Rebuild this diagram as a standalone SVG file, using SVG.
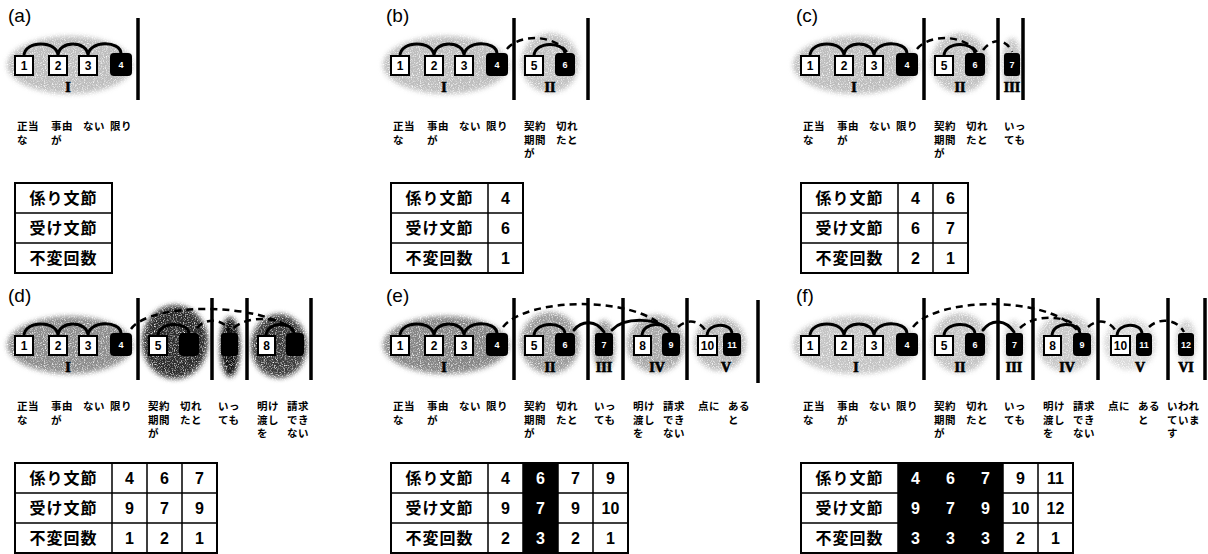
<svg xmlns="http://www.w3.org/2000/svg" width="1208" height="554" viewBox="0 0 1208 554">
<defs>
<filter id="stip" x="-15%" y="-25%" width="130%" height="150%" color-interpolation-filters="sRGB">
<feGaussianBlur in="SourceGraphic" stdDeviation="2.5" result="b"/>
<feTurbulence type="fractalNoise" baseFrequency="0.9" numOctaves="2" seed="4" result="n"/>
<feColorMatrix in="n" type="matrix" values="0 0 0 0 0  0 0 0 0 0  0 0 0 0 0  2.6 0 0 0 -0.35" result="m"/>
<feComposite in="b" in2="m" operator="in"/>
</filter>
</defs>
<style>
.lab{font-family:"Liberation Sans",Arial,sans-serif;font-size:19px;fill:#000}
.arc{fill:none;stroke:#000;stroke-width:3;stroke-linecap:round}
.dash{fill:none;stroke:#000;stroke-width:2.5;stroke-dasharray:7 5}
.box{fill:#fff;stroke:#000;stroke-width:2}
.blk{fill:#000}
.sep{stroke:#000;stroke-width:3.5}
.n{font-family:"Liberation Sans",Arial,sans-serif;font-weight:bold;font-size:12px;text-anchor:middle;fill:#000}
.nw{font-family:"Liberation Sans",Arial,sans-serif;font-weight:bold;font-size:9px;text-anchor:middle;fill:#fff}
.rom{font-family:"Liberation Serif","Times New Roman",serif;font-weight:bold;font-size:14px;text-anchor:middle;fill:#000;stroke:#000;stroke-width:0.7}
.w{font-family:"Noto Sans CJK JP",sans-serif;font-weight:bold;font-size:10.5px;letter-spacing:0.5px;fill:#000}
.tb{fill:#fff;stroke:#000;stroke-width:2}
.tg{fill:none;stroke:#000;stroke-width:1.5}
.tl{font-family:"Noto Sans CJK JP",sans-serif;font-weight:bold;font-size:16px;letter-spacing:1px;text-anchor:middle;fill:#000}
.tn{font-family:"Liberation Sans",Arial,sans-serif;font-weight:bold;font-size:16px;text-anchor:middle;fill:#000}
.tnw{font-family:"Liberation Sans",Arial,sans-serif;font-weight:bold;font-size:16px;text-anchor:middle;fill:#fff}
</style>
<rect width="1208" height="554" fill="#fff"/>

<!-- ===================== (a) ===================== -->
<g id="panel-a">
<text class="lab" x="8" y="22">(a)</text>
<g id="a-blobs" filter="url(#stip)">
<ellipse cx="70" cy="65" rx="63" ry="29" fill="#bdbdbd"/>
</g>
<g id="a-connectors">
<path class="arc" d="M24 56C24 40 58 40 58 56M58 56C58 40 88 40 88 56M88 56C88 40 121 40 121 54"/>
</g>
<g id="a-seg1">
<rect class="box" x="15" y="56" width="18" height="19"/><text class="n" x="24" y="70">1</text>
<rect class="box" x="49" y="56" width="18" height="19"/><text class="n" x="58" y="70">2</text>
<rect class="box" x="79" y="56" width="18" height="19"/><text class="n" x="88" y="70">3</text>
<rect class="blk" x="110" y="53" width="22" height="23" rx="4"/><text class="nw" x="121" y="68">4</text>
<text class="rom" x="68" y="92">I</text>
<line class="sep" x1="138" y1="18" x2="138" y2="100"/>
</g>
<g id="a-words">
<text class="w" x="17" y="130">正当<tspan x="17" dy="13.5">な</tspan></text>
<text class="w" x="51" y="130">事由<tspan x="51" dy="13.5">が</tspan></text>
<text class="w" x="83" y="130">ない</text>
<text class="w" x="110" y="130">限り</text>
</g>
<g id="a-table">
<rect class="tb" x="15" y="183" width="97" height="90"/>
<path class="tg" d="M15 213H112M15 243H112"/>
<text class="tl" x="63.5" y="204">係り文節</text>
<text class="tl" x="63.5" y="234">受け文節</text>
<text class="tl" x="63.5" y="264">不変回数</text>
</g>
</g>

<!-- ===================== (b) ===================== -->
<g id="panel-b" transform="translate(376,0)">
<text class="lab" x="10" y="22">(b)</text>
<g id="b-blobs" filter="url(#stip)">
<ellipse cx="70" cy="65" rx="63" ry="29" fill="#bdbdbd"/>
<ellipse cx="174" cy="63" rx="29" ry="30" fill="#c2c2c2"/>
</g>
<g id="b-connectors">
<path class="arc" d="M24 56C24 40 58 40 58 56M58 56C58 40 88 40 88 56M88 56C88 40 121 40 121 54"/>
<path class="arc" d="M158 56C158 41 189 41 189 54"/>
<path class="dash" d="M131 49C142 35 176 33 191 52"/>
</g>
<g id="b-seg1">
<rect class="box" x="15" y="56" width="18" height="19"/><text class="n" x="24" y="70">1</text>
<rect class="box" x="49" y="56" width="18" height="19"/><text class="n" x="58" y="70">2</text>
<rect class="box" x="79" y="56" width="18" height="19"/><text class="n" x="88" y="70">3</text>
<rect class="blk" x="110" y="53" width="22" height="23" rx="4"/><text class="nw" x="121" y="68">4</text>
<text class="rom" x="68" y="92">I</text>
<line class="sep" x1="138" y1="18" x2="138" y2="100"/>
</g>
<g id="b-seg2">
<rect class="box" x="149" y="56" width="18" height="19"/><text class="n" x="158" y="70">5</text>
<rect class="blk" x="179" y="53" width="20" height="23" rx="4"/><text class="nw" x="189" y="68">6</text>
<text class="rom" x="174" y="92">II</text>
<line class="sep" x1="212" y1="18" x2="212" y2="100"/>
</g>
<g id="b-words">
<text class="w" x="17" y="130">正当<tspan x="17" dy="13.5">な</tspan></text>
<text class="w" x="51" y="130">事由<tspan x="51" dy="13.5">が</tspan></text>
<text class="w" x="83" y="130">ない</text>
<text class="w" x="110" y="130">限り</text>
<text class="w" x="148" y="130">契約<tspan x="148" dy="13.5">期間</tspan><tspan x="148" dy="13.5">が</tspan></text>
<text class="w" x="180" y="130">切れ<tspan x="180" dy="13.5">たと</tspan></text>
</g>
<g id="b-table">
<rect class="tb" x="15" y="183" width="132" height="90"/>
<path class="tg" d="M15 213H147M15 243H147M112 183V273"/>
<text class="tl" x="63.5" y="204">係り文節</text>
<text class="tl" x="63.5" y="234">受け文節</text>
<text class="tl" x="63.5" y="264">不変回数</text>
<text class="tn" x="129.5" y="204">4</text><text class="tn" x="129.5" y="234">6</text><text class="tn" x="129.5" y="264">1</text>
</g>
</g>

<!-- ===================== (c) ===================== -->
<g id="panel-c" transform="translate(786,0)">
<text class="lab" x="10" y="22">(c)</text>
<g id="c-blobs" filter="url(#stip)">
<ellipse cx="70" cy="65" rx="63" ry="29" fill="#bdbdbd"/>
<ellipse cx="174" cy="63" rx="29" ry="30" fill="#c2c2c2"/>
<ellipse cx="226" cy="64" rx="10" ry="26" fill="#c6c6c6"/>
</g>
<g id="c-connectors">
<path class="arc" d="M24 56C24 40 58 40 58 56M58 56C58 40 88 40 88 56M88 56C88 40 121 40 121 54"/>
<path class="arc" d="M158 56C158 41 189 41 189 54"/>
<path class="dash" d="M131 49C142 35 176 33 191 52"/>
<path class="dash" d="M197 50C206 38 220 38 226 52"/>
</g>
<g id="c-seg1">
<rect class="box" x="15" y="56" width="18" height="19"/><text class="n" x="24" y="70">1</text>
<rect class="box" x="49" y="56" width="18" height="19"/><text class="n" x="58" y="70">2</text>
<rect class="box" x="79" y="56" width="18" height="19"/><text class="n" x="88" y="70">3</text>
<rect class="blk" x="110" y="53" width="22" height="23" rx="4"/><text class="nw" x="121" y="68">4</text>
<text class="rom" x="68" y="92">I</text>
<line class="sep" x1="138" y1="18" x2="138" y2="100"/>
</g>
<g id="c-seg2">
<rect class="box" x="149" y="56" width="18" height="19"/><text class="n" x="158" y="70">5</text>
<rect class="blk" x="179" y="53" width="20" height="23" rx="4"/><text class="nw" x="189" y="68">6</text>
<text class="rom" x="174" y="92">II</text>
<line class="sep" x1="212" y1="18" x2="212" y2="100"/>
</g>
<g id="c-seg3">
<rect class="blk" x="218" y="53" width="16" height="23" rx="3"/><text class="nw" x="226" y="68">7</text>
<text class="rom" x="226" y="92">III</text>
<line class="sep" x1="237" y1="18" x2="237" y2="100"/>
</g>
<g id="c-words">
<text class="w" x="17" y="130">正当<tspan x="17" dy="13.5">な</tspan></text>
<text class="w" x="51" y="130">事由<tspan x="51" dy="13.5">が</tspan></text>
<text class="w" x="83" y="130">ない</text>
<text class="w" x="110" y="130">限り</text>
<text class="w" x="148" y="130">契約<tspan x="148" dy="13.5">期間</tspan><tspan x="148" dy="13.5">が</tspan></text>
<text class="w" x="180" y="130">切れ<tspan x="180" dy="13.5">たと</tspan></text>
<text class="w" x="218" y="130">いっ<tspan x="218" dy="13.5">ても</tspan></text>
</g>
<g id="c-table">
<rect class="tb" x="15" y="183" width="167" height="90"/>
<path class="tg" d="M15 213H182M15 243H182M112 183V273M147 183V273"/>
<text class="tl" x="63.5" y="204">係り文節</text>
<text class="tl" x="63.5" y="234">受け文節</text>
<text class="tl" x="63.5" y="264">不変回数</text>
<text class="tn" x="129.5" y="204">4</text><text class="tn" x="129.5" y="234">6</text><text class="tn" x="129.5" y="264">2</text>
<text class="tn" x="164.5" y="204">6</text><text class="tn" x="164.5" y="234">7</text><text class="tn" x="164.5" y="264">1</text>
</g>
</g>

<!-- ===================== (d) ===================== -->
<g id="panel-d" transform="translate(0,280)">
<text class="lab" x="8" y="22">(d)</text>
<g id="d-blobs" filter="url(#stip)">
<ellipse cx="70" cy="65" rx="63" ry="29" fill="#8c8c8c"/>
<ellipse cx="175" cy="62" rx="33" ry="37" fill="#2c2c2c"/>
<ellipse cx="230" cy="67" rx="10" ry="30" fill="#111"/>
<ellipse cx="279" cy="66" rx="28" ry="32" fill="#3c3c3c"/>
</g>
<g id="d-connectors">
<path class="arc" d="M24 56C24 40 58 40 58 56M58 56C58 40 88 40 88 56M88 56C88 40 121 40 121 54"/>
<path class="arc" d="M158 56C158 41 189 41 189 54"/>
<path class="arc" d="M266 56C266 41 294 41 294 54"/>
<path class="dash" d="M131 49C150 22 262 22 293 51"/>
<path class="dash" d="M197 48C205 38 222 38 229 50"/>
<path class="dash" d="M234 48C246 36 278 36 290 48"/>
</g>
<g id="d-seg1">
<rect class="box" x="15" y="56" width="18" height="19"/><text class="n" x="24" y="70">1</text>
<rect class="box" x="49" y="56" width="18" height="19"/><text class="n" x="58" y="70">2</text>
<rect class="box" x="79" y="56" width="18" height="19"/><text class="n" x="88" y="70">3</text>
<rect class="blk" x="110" y="53" width="22" height="23" rx="4"/><text class="nw" x="121" y="68">4</text>
<text class="rom" x="68" y="92">I</text>
<line class="sep" x1="138" y1="18" x2="138" y2="100"/>
</g>
<g id="d-seg2">
<rect class="box" x="149" y="56" width="18" height="19"/><text class="n" x="158" y="70">5</text>
<rect class="blk" x="179" y="53" width="20" height="23" rx="4"/>
<line class="sep" x1="212" y1="18" x2="212" y2="100"/>
</g>
<g id="d-seg3">
<rect class="blk" x="221" y="53" width="17" height="23" rx="3"/>
<line class="sep" x1="247" y1="18" x2="247" y2="100"/>
</g>
<g id="d-seg4">
<rect class="box" x="258" y="56" width="17" height="19"/><text class="n" x="266.5" y="70">8</text>
<rect class="blk" x="286" y="53" width="18" height="23" rx="4"/>
<line class="sep" x1="311" y1="18" x2="311" y2="100"/>
</g>
<g id="d-words">
<text class="w" x="17" y="130">正当<tspan x="17" dy="13.5">な</tspan></text>
<text class="w" x="51" y="130">事由<tspan x="51" dy="13.5">が</tspan></text>
<text class="w" x="83" y="130">ない</text>
<text class="w" x="110" y="130">限り</text>
<text class="w" x="148" y="130">契約<tspan x="148" dy="13.5">期間</tspan><tspan x="148" dy="13.5">が</tspan></text>
<text class="w" x="180" y="130">切れ<tspan x="180" dy="13.5">たと</tspan></text>
<text class="w" x="218" y="130">いっ<tspan x="218" dy="13.5">ても</tspan></text>
<text class="w" x="257" y="130">明け<tspan x="257" dy="13.5">渡し</tspan><tspan x="257" dy="13.5">を</tspan></text>
<text class="w" x="287" y="130">請求<tspan x="287" dy="13.5">でき</tspan><tspan x="287" dy="13.5">ない</tspan></text>
</g>
<g id="d-table">
<rect class="tb" x="15" y="183" width="202" height="90"/>
<path class="tg" d="M15 213H217M15 243H217M112 183V273M147 183V273M182 183V273"/>
<text class="tl" x="63.5" y="204">係り文節</text>
<text class="tl" x="63.5" y="234">受け文節</text>
<text class="tl" x="63.5" y="264">不変回数</text>
<text class="tn" x="129.5" y="204">4</text><text class="tn" x="129.5" y="234">9</text><text class="tn" x="129.5" y="264">1</text>
<text class="tn" x="164.5" y="204">6</text><text class="tn" x="164.5" y="234">7</text><text class="tn" x="164.5" y="264">2</text>
<text class="tn" x="199.5" y="204">7</text><text class="tn" x="199.5" y="234">9</text><text class="tn" x="199.5" y="264">1</text>
</g>
</g>

<!-- ===================== (e) ===================== -->
<g id="panel-e" transform="translate(376,280)">
<text class="lab" x="10" y="22">(e)</text>
<g id="e-blobs" filter="url(#stip)">
<ellipse cx="70" cy="65" rx="63" ry="29" fill="#858585"/>
<ellipse cx="174" cy="63" rx="30" ry="31" fill="#9c9c9c"/>
<ellipse cx="228" cy="66" rx="11" ry="26" fill="#9c9c9c"/>
<ellipse cx="280" cy="64" rx="29" ry="29" fill="#a8a8a8"/>
<ellipse cx="344" cy="64" rx="26" ry="27" fill="#bababa"/>
</g>
<g id="e-connectors">
<path class="arc" d="M24 56C24 40 58 40 58 56M58 56C58 40 88 40 88 56M88 56C88 40 121 40 121 54"/>
<path class="arc" d="M158 56C158 41 189 41 189 54"/>
<path class="arc" d="M266 56C266 41 294 41 294 54"/>
<path class="arc" d="M331 56C331 42 356 42 356 54"/>
<path class="arc" d="M198 50C206 40 220 40 228 52"/>
<path class="arc" d="M236 50C248 37 282 37 293 51"/>
<path class="dash" d="M127 47C150 18 258 14 291 50"/>
<path class="dash" d="M302 47C312 38 324 40 331 53"/>
</g>
<g id="e-seg1">
<rect class="box" x="15" y="56" width="18" height="19"/><text class="n" x="24" y="70">1</text>
<rect class="box" x="49" y="56" width="18" height="19"/><text class="n" x="58" y="70">2</text>
<rect class="box" x="79" y="56" width="18" height="19"/><text class="n" x="88" y="70">3</text>
<rect class="blk" x="110" y="53" width="22" height="23" rx="4"/><text class="nw" x="121" y="68">4</text>
<text class="rom" x="68" y="92">I</text>
<line class="sep" x1="138" y1="18" x2="138" y2="100"/>
</g>
<g id="e-seg2">
<rect class="box" x="149" y="56" width="18" height="19"/><text class="n" x="158" y="70">5</text>
<rect class="blk" x="179" y="53" width="20" height="23" rx="4"/><text class="nw" x="189" y="68">6</text>
<text class="rom" x="174" y="92">II</text>
<line class="sep" x1="212" y1="18" x2="212" y2="100"/>
</g>
<g id="e-seg3">
<rect class="blk" x="219" y="53" width="18" height="23" rx="3"/><text class="nw" x="228" y="68">7</text>
<text class="rom" x="228" y="92">III</text>
<line class="sep" x1="247" y1="18" x2="247" y2="100"/>
</g>
<g id="e-seg4">
<rect class="box" x="258" y="56" width="17" height="19"/><text class="n" x="266.5" y="70">8</text>
<rect class="blk" x="286" y="53" width="18" height="23" rx="4"/><text class="nw" x="295" y="68">9</text>
<text class="rom" x="281" y="92">IV</text>
<line class="sep" x1="311" y1="18" x2="311" y2="100"/>
</g>
<g id="e-seg5">
<rect class="box" x="322" y="56" width="19" height="19"/><text class="n" x="331.5" y="70">10</text>
<rect class="blk" x="347" y="53" width="18" height="23" rx="4"/><text class="nw" x="356" y="68">11</text>
<text class="rom" x="350" y="92">V</text>
<line class="sep" x1="382" y1="20" x2="382" y2="103"/>
</g>
<g id="e-words">
<text class="w" x="17" y="130">正当<tspan x="17" dy="13.5">な</tspan></text>
<text class="w" x="51" y="130">事由<tspan x="51" dy="13.5">が</tspan></text>
<text class="w" x="83" y="130">ない</text>
<text class="w" x="110" y="130">限り</text>
<text class="w" x="148" y="130">契約<tspan x="148" dy="13.5">期間</tspan><tspan x="148" dy="13.5">が</tspan></text>
<text class="w" x="180" y="130">切れ<tspan x="180" dy="13.5">たと</tspan></text>
<text class="w" x="218" y="130">いっ<tspan x="218" dy="13.5">ても</tspan></text>
<text class="w" x="257" y="130">明け<tspan x="257" dy="13.5">渡し</tspan><tspan x="257" dy="13.5">を</tspan></text>
<text class="w" x="287" y="130">請求<tspan x="287" dy="13.5">でき</tspan><tspan x="287" dy="13.5">ない</tspan></text>
<text class="w" x="322" y="130">点に</text>
<text class="w" x="352" y="130">ある<tspan x="352" dy="13.5">と</tspan></text>
</g>
<g id="e-table">
<rect class="tb" x="15" y="183" width="237" height="90"/>
<path class="tg" d="M15 213H252M15 243H252M112 183V273M147 183V273M182 183V273M217 183V273"/>
<rect class="blk" x="147" y="183" width="35" height="90"/>
<text class="tl" x="63.5" y="204">係り文節</text>
<text class="tl" x="63.5" y="234">受け文節</text>
<text class="tl" x="63.5" y="264">不変回数</text>
<text class="tn" x="129.5" y="204">4</text><text class="tn" x="129.5" y="234">9</text><text class="tn" x="129.5" y="264">2</text>
<text class="tnw" x="164.5" y="204">6</text><text class="tnw" x="164.5" y="234">7</text><text class="tnw" x="164.5" y="264">3</text>
<text class="tn" x="199.5" y="204">7</text><text class="tn" x="199.5" y="234">9</text><text class="tn" x="199.5" y="264">2</text>
<text class="tn" x="234.5" y="204">9</text><text class="tn" x="234.5" y="234">10</text><text class="tn" x="234.5" y="264">1</text>
</g>
</g>

<!-- ===================== (f) ===================== -->
<g id="panel-f" transform="translate(786,280)">
<text class="lab" x="10" y="22">(f)</text>
<g id="f-blobs" filter="url(#stip)">
<ellipse cx="70" cy="65" rx="63" ry="29" fill="#c4c4c4"/>
<ellipse cx="174" cy="63" rx="29" ry="30" fill="#c4c4c4"/>
<ellipse cx="228" cy="64" rx="10" ry="24" fill="#d2d2d2"/>
<ellipse cx="280" cy="63" rx="29" ry="29" fill="#c8c8c8"/>
<ellipse cx="344" cy="64" rx="26" ry="26" fill="#dadada"/>
<ellipse cx="400" cy="62" rx="10" ry="22" fill="#cfcfcf"/>
</g>
<g id="f-connectors">
<path class="arc" d="M24 56C24 40 58 40 58 56M58 56C58 40 88 40 88 56M88 56C88 40 121 40 121 54"/>
<path class="arc" d="M158 56C158 41 189 41 189 54"/>
<path class="arc" d="M266 56C266 41 294 41 294 54"/>
<path class="arc" d="M331 56C331 42 356 42 356 54"/>
<path class="arc" d="M197 50C206 38 220 40 228 52"/>
<path class="dash" d="M127 47C150 18 258 14 291 50"/>
<path class="dash" d="M234 48C248 34 282 34 294 50"/>
<path class="dash" d="M302 47C312 38 324 40 331 53"/>
<path class="dash" d="M363 47C372 38 390 38 398 52"/>
</g>
<g id="f-seg1">
<rect class="box" x="15" y="56" width="18" height="19"/><text class="n" x="24" y="70">1</text>
<rect class="box" x="49" y="56" width="18" height="19"/><text class="n" x="58" y="70">2</text>
<rect class="box" x="79" y="56" width="18" height="19"/><text class="n" x="88" y="70">3</text>
<rect class="blk" x="110" y="53" width="22" height="23" rx="4"/><text class="nw" x="121" y="68">4</text>
<text class="rom" x="70" y="92">I</text>
<line class="sep" x1="138" y1="18" x2="138" y2="100"/>
</g>
<g id="f-seg2">
<rect class="box" x="149" y="56" width="18" height="19"/><text class="n" x="158" y="70">5</text>
<rect class="blk" x="179" y="53" width="20" height="23" rx="4"/><text class="nw" x="189" y="68">6</text>
<text class="rom" x="174" y="92">II</text>
<line class="sep" x1="212" y1="18" x2="212" y2="100"/>
</g>
<g id="f-seg3">
<rect class="blk" x="220" y="53" width="17" height="23" rx="3"/><text class="nw" x="228.5" y="68">7</text>
<text class="rom" x="228" y="92">III</text>
<line class="sep" x1="247" y1="18" x2="247" y2="100"/>
</g>
<g id="f-seg4">
<rect class="box" x="258" y="56" width="17" height="19"/><text class="n" x="266.5" y="70">8</text>
<rect class="blk" x="287" y="53" width="18" height="23" rx="4"/><text class="nw" x="296" y="68">9</text>
<text class="rom" x="281" y="92">IV</text>
<line class="sep" x1="312" y1="18" x2="312" y2="100"/>
</g>
<g id="f-seg5">
<rect class="box" x="325" y="56" width="19" height="19"/><text class="n" x="334.5" y="70">10</text>
<rect class="blk" x="350" y="53" width="16" height="23" rx="4"/><text class="nw" x="358" y="68">11</text>
<text class="rom" x="354" y="92">V</text>
<line class="sep" x1="382" y1="18" x2="382" y2="100"/>
</g>
<g id="f-seg6">
<rect class="blk" x="392" y="53" width="16" height="23" rx="3"/><text class="nw" x="400" y="68">12</text>
<text class="rom" x="400" y="92">VI</text>
<line class="sep" x1="419" y1="18" x2="419" y2="100"/>
</g>
<g id="f-words">
<text class="w" x="17" y="130">正当<tspan x="17" dy="13.5">な</tspan></text>
<text class="w" x="51" y="130">事由<tspan x="51" dy="13.5">が</tspan></text>
<text class="w" x="83" y="130">ない</text>
<text class="w" x="110" y="130">限り</text>
<text class="w" x="148" y="130">契約<tspan x="148" dy="13.5">期間</tspan><tspan x="148" dy="13.5">が</tspan></text>
<text class="w" x="180" y="130">切れ<tspan x="180" dy="13.5">たと</tspan></text>
<text class="w" x="218" y="130">いっ<tspan x="218" dy="13.5">ても</tspan></text>
<text class="w" x="257" y="130">明け<tspan x="257" dy="13.5">渡し</tspan><tspan x="257" dy="13.5">を</tspan></text>
<text class="w" x="287" y="130">請求<tspan x="287" dy="13.5">でき</tspan><tspan x="287" dy="13.5">ない</tspan></text>
<text class="w" x="322" y="130">点に</text>
<text class="w" x="352" y="130">ある<tspan x="352" dy="13.5">と</tspan></text>
<text class="w" x="381" y="130">いわれ<tspan x="381" dy="13.5">ていま</tspan><tspan x="381" dy="13.5">す</tspan></text>
</g>
<g id="f-table">
<rect class="tb" x="15" y="183" width="272" height="90"/>
<path class="tg" d="M15 213H287M15 243H287M112 183V273M217 183V273M252 183V273"/>
<rect class="blk" x="112" y="183" width="105" height="90"/>
<text class="tl" x="63.5" y="204">係り文節</text>
<text class="tl" x="63.5" y="234">受け文節</text>
<text class="tl" x="63.5" y="264">不変回数</text>
<text class="tnw" x="129.5" y="204">4</text><text class="tnw" x="129.5" y="234">9</text><text class="tnw" x="129.5" y="264">3</text>
<text class="tnw" x="164.5" y="204">6</text><text class="tnw" x="164.5" y="234">7</text><text class="tnw" x="164.5" y="264">3</text>
<text class="tnw" x="199.5" y="204">7</text><text class="tnw" x="199.5" y="234">9</text><text class="tnw" x="199.5" y="264">3</text>
<text class="tn" x="234.5" y="204">9</text><text class="tn" x="234.5" y="234">10</text><text class="tn" x="234.5" y="264">2</text>
<text class="tn" x="269.5" y="204">11</text><text class="tn" x="269.5" y="234">12</text><text class="tn" x="269.5" y="264">1</text>
</g>
</g>
</svg>
